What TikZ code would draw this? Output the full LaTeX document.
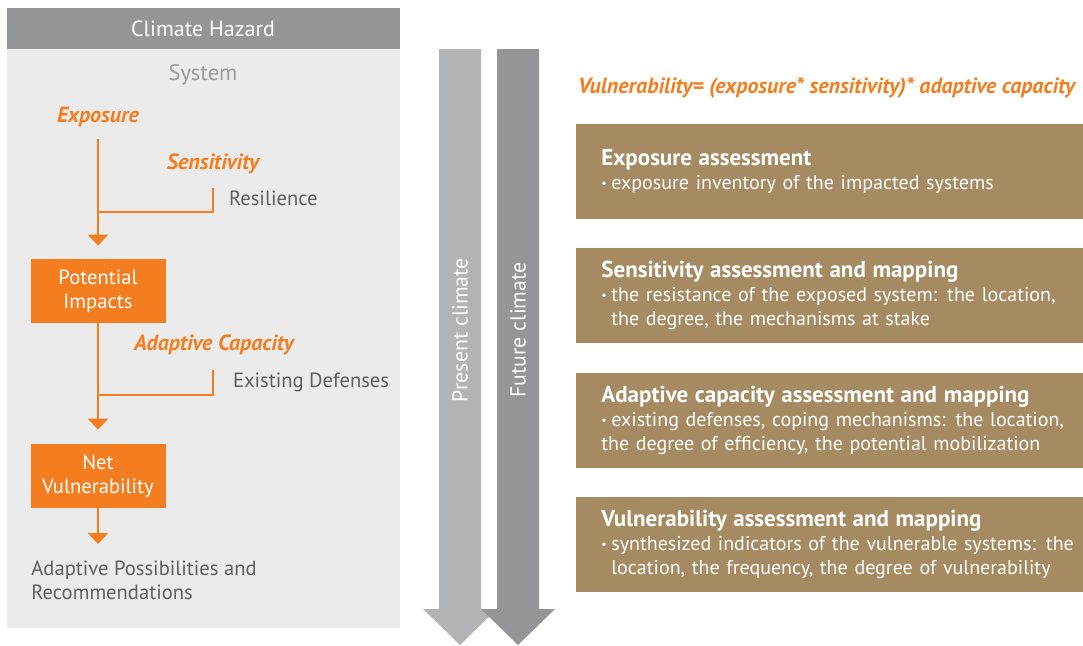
\documentclass[tikz,border=0pt]{standalone}
\usepackage{fontspec}
\setmainfont{PT Sans}
\usetikzlibrary{arrows.meta, positioning, calc}
\definecolor{hazardgrey}{HTML}{939598}
\definecolor{panelgrey}{HTML}{EBEBEB}
\definecolor{presentgrey}{HTML}{B1B3B6}
\definecolor{textgrey}{HTML}{5E5F61}
\definecolor{systemgrey}{HTML}{9A9B9E}
\definecolor{impactorange}{HTML}{F47D20}
\definecolor{assessbrown}{HTML}{A58A62}
\newcommand{\assesstitle}[1]{{\fontsize{11.5}{13}\selectfont\bfseries #1}}
\newcommand{\dotitem}{\makebox[5pt][l]{\raisebox{0.9pt}{\fontsize{6}{6}\selectfont\textbullet}}}

\begin{document}
\begin{tikzpicture}[
        x=0.5pt, y=-0.5pt,
        keyword/.style={text=impactorange, font=\fontsize{11}{12}\selectfont\bfseries\itshape},
        note/.style={text=textgrey, font=\fontsize{10.3}{12}\selectfont},
        impact/.style={fill=impactorange, text=white, minimum width=67.5pt, minimum height=32pt, inner sep=0pt, align=center, font=\fontsize{10.3}{12}\selectfont},
        flow/.style={draw=impactorange, line width=1.3pt},
        flowarrow/.style={flow, -{Triangle[width=10pt, length=5.5pt]}},
        assess/.style={fill=assessbrown, text=white, anchor=west, minimum height=47.5pt, text width=250pt, inner xsep=12.5pt, inner ysep=0pt, align=left, font=\fontsize{10}{12}\selectfont},
        climate/.style={text=white, rotate=90, font=\fontsize{10.9}{12}\selectfont}
    ]
        \useasboundingbox (0,0) rectangle (1083,645);

        % Panel links
        \fill[panelgrey] (7,8) rectangle (400,628);
        \fill[hazardgrey] (7,8) rectangle (400,49);
        \node[text=white, font=\fontsize{11}{12}\selectfont] (hazard) at (203,29) {Climate Hazard};
        \node[text=systemgrey, font=\fontsize{11.2}{12}\selectfont] (system) at (203,75) {System};

        \node[keyword] (exposure) at (98,117) {Exposure};
        \node[keyword] (sensitivity) at (213,164) {Sensitivity};
        \node[note, anchor=west] (resilience) at (222,198) {Resilience};
        \node[impact] (impacts) at (98,291) {Potential\\Impacts};
        \node[keyword] (adaptive) at (214,345) {Adaptive Capacity};
        \node[note, anchor=west] (defenses) at (226,382) {Existing Defenses};
        \node[impact] (netvul) at (98,476) {Net\\Vulnerability};
        \node[note, anchor=north west, align=left, inner sep=0pt] (possib) at (31,560) {Adaptive Possibilities and\\Recommendations};

        \coordinate (join1) at (98,212);
        \coordinate (join2) at (98,395);

        % Sageti portocalii
        \draw[flowarrow, shorten <=2.5pt, shorten >=6.5pt] (exposure) -- (impacts);
        \draw[flow, shorten <=3.5pt] (sensitivity.south) |- (join1);
        \draw[flowarrow, shorten >=7pt] (impacts) -- (netvul);
        \draw[flow, shorten <=4pt] (adaptive.south -| sensitivity.south) |- (join2);
        \draw[flowarrow, shorten >=8pt] (netvul) -- (possib.north -| netvul);

        % Sageti climat
        \foreach \x/\col in {439/presentgrey, 497/hazardgrey} {
            \fill[\col] (\x,49) -- ++(42,0) -- ++(0,560) -- ++(16,0) -- ++(-37,36)
                -- ++(-37,-36) -- ++(16,0) -- cycle;
        }
        \node[climate] (present) at (460,330) {Present climate};
        \node[climate] (future) at (518,330) {Future climate};

        % Evaluari
        \node[keyword, anchor=east] (formula) at (1082,88)
            {Vulnerability= (exposure* sensitivity)* adaptive capacity};

        \node[assess] (expassess) at (576,171.5)
            {\assesstitle{Exposure assessment}\\\dotitem exposure inventory of the impacted systems};
        \node[assess] (sensassess) at (576,295.5)
            {\assesstitle{Sensitivity assessment and mapping}\\\dotitem the resistance of the exposed system: the location,\\\hphantom{\dotitem}the degree, the mechanisms at stake};
        \node[assess] (adaptassess) at (576,420.5)
            {\assesstitle{Adaptive capacity assessment and mapping}\\\dotitem existing defenses, coping mechanisms: the location,\\the degree of efficiency, the potential mobilization};
        \node[assess] (vulassess) at (576,544.5)
            {\assesstitle{Vulnerability assessment and mapping}\\\dotitem synthesized indicators of the vulnerable systems: the\\\hphantom{\dotitem}location, the frequency, the degree of vulnerability};

    \end{tikzpicture}
\end{document}
